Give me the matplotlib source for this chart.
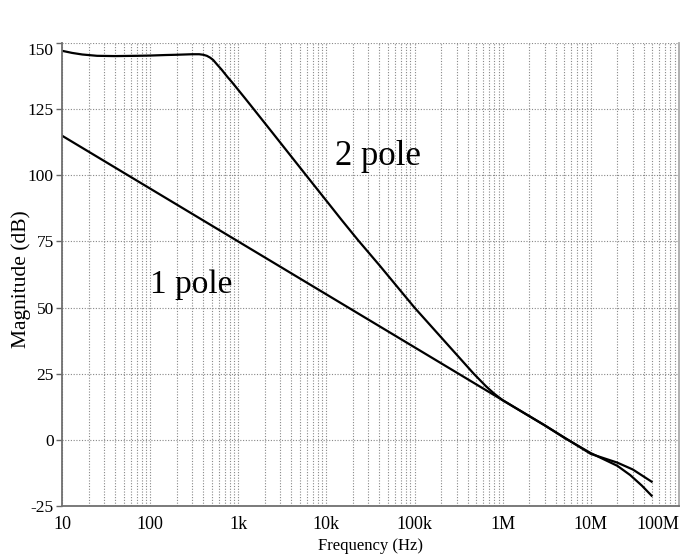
import numpy as np
from matplotlib import pyplot as plt
from matplotlib.ticker import FixedLocator, NullFormatter, LogLocator

plt.rcParams['font.family'] = ['Liberation Serif', 'DejaVu Serif']
plt.rcParams['axes.unicode_minus'] = False

# 1 pole response (Hz, dB)
f_one = [10, 1e3, 1e5, 1e6, 3e6, 1e7, 2e7, 3e7, 4.9e7]
db_one = [115, 75, 35, 15, 5.5, -5.3, -8.6, -11.2, -15.8]

# 2 pole response (Hz, dB)
f_two = [10, 13, 17, 25, 40, 70, 100, 150, 200, 300, 360, 400, 440, 480, 520,
         575, 650, 750, 850, 1000, 1200, 1500, 2500, 5900, 10e3, 15e3, 23e3,
         40e3, 100e3, 200e3, 470e3, 650e3, 800e3, 1e6, 2e6, 3e6, 5e6, 1e7,
         2e7, 2.8e7, 3.8e7, 4.9e7]
db_two = [147.1, 146.3, 145.7, 145.2, 145.1, 145.2, 145.3, 145.5, 145.6, 145.8,
          145.8, 145.6, 145.2, 144.5, 143.6, 141.9, 139.9, 137.3, 135.2, 132.3,
          129.05, 125.0, 115.7, 100.0, 90.4, 83.0, 75.4, 66.0, 50.0, 38.8,
          25.0, 20.2, 17.5, 15.0, 9.0, 5.5, 0.8, -5.0, -9.8, -13.3, -17.3, -21.1]

x_ticks = [10, 100, 1e3, 1e4, 1e5, 1e6, 1e7, 1e8]
x_labels = ['10', '100', '1k', '10k', '100k', '1M', '10M', '100M']
y_ticks = [-25, 0, 25, 50, 75, 100, 125, 150]

fig = plt.figure(figsize=(6.9, 5.55), dpi=100)
ax = fig.add_axes([0.0899, 0.0883, 0.894, 0.834])

ax.semilogx(f_one, db_one, color='black', lw=1.6)
ax.semilogx(f_two, db_two, color='black', lw=1.6)

ax.set_xlim(10, 1e8)
ax.set_ylim(-25, 150)
ax.xaxis.set_major_locator(FixedLocator(x_ticks))
ax.set_xticklabels(x_labels)
ax.xaxis.set_minor_locator(LogLocator(base=10, subs=np.arange(2, 10)))
ax.xaxis.set_minor_formatter(NullFormatter())
ax.set_yticks(y_ticks)

ax.grid(True, which='both', axis='x', color='#888888', ls=(0, (1, 1.5)), lw=0.8)
ax.grid(True, which='major', axis='y', color='#888888', ls=(0, (1, 1.5)), lw=0.8)

ax.tick_params(axis='x', which='both', length=0, labelsize=13, pad=7)
ax.tick_params(axis='y', length=4, width=1, color='#666666', labelsize=12.5, pad=2)

# last x label sits inside the figure, top y label hangs below the top line
ax.get_xticklabels()[-1].set_ha('right')
ax.get_yticklabels()[-1].set_va('top')

ax.spines['top'].set_visible(False)
for s in ['left', 'bottom']:
    ax.spines[s].set_color('#6f6f6f')
    ax.spines[s].set_linewidth(1.3)
ax.spines['right'].set_color('#aaaaaa')
ax.spines['right'].set_linewidth(1.3)

ax.set_xlabel('Frequency (Hz)', fontsize=12, labelpad=4)
ax.set_ylabel('Magnitude (dB)', fontsize=15.5)
ax.yaxis.set_label_coords(-0.051, 0.49)

ax.text(12.6e3, 107, '2 pole', fontsize=25, va='center', ha='left')
ax.text(100, 58.6, '1 pole', fontsize=24, va='center', ha='left')

plt.savefig('out.png', dpi=100)
